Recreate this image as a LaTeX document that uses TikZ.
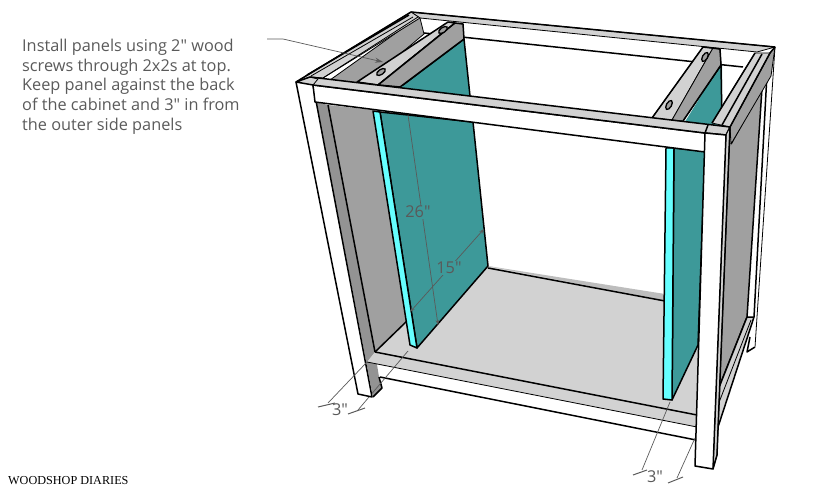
\documentclass[tikz,border=0pt]{standalone}
\usepackage{fontspec}
\setmainfont[Ligatures=TeXOff]{Open Sans}
\newfontfamily\logofont{Liberation Serif}
\usetikzlibrary{arrows.meta}
\definecolor{panelteal}{HTML}{3D9999}
\definecolor{paneledge}{HTML}{66FFFF}
\definecolor{sidegray}{HTML}{A0A0A0}
\definecolor{lightgray}{HTML}{D2D2D2}
\definecolor{shadowgray}{HTML}{BDBDBD}
\definecolor{notegray}{HTML}{5A5A5A}
\tikzset{
  edge/.style={draw=black,line width=1.5pt,line join=round},
  fine/.style={draw=black,line width=.8pt,line join=round},
  dim/.style={draw=notegray,line width=.7pt},
  dimtip/.style={dim,{Stealth[length=5pt,width=3.5pt]}-{Stealth[length=5pt,width=3.5pt]}},
  notelabel/.style={text=notegray,inner sep=1pt,font=\fontsize{16.3}{19.7}\selectfont},
  hole/.style={draw=black,fill=sidegray,line width=1.3pt}
}
\begin{document}
\begin{tikzpicture}[x=1pt,y=-1pt]
\useasboundingbox (0,0) rectangle (813,502);
\draw [fine,fill=lightgray] (411,12) -- (775,47) -- (757,52) -- (420,18) -- cycle;
\draw [edge] (411,12) -- (775,47);
\draw [edge] (424,33) -- (743,67);
\draw [fine] (775,47) -- (755,347);
\draw [edge] (768,55) -- (754,317);
\draw [fill=sidegray,fine] (316,90) -- (417,18) -- (420,18) -- (424,34) -- (357,90) -- cycle;
\fill [panelteal] (398,92) -- (403,85) -- (464,39) -- (470,100) -- cycle;
\draw [edge] (403,85) -- (464,39) -- (470,96);
\draw [edge,fill=lightgray] (357,82) -- (448,22) -- (455,23) -- (378,85) -- cycle;
\draw [edge,fill=sidegray] (378,85) -- (455,23) -- (463,24) -- (464,39) -- (400,87) -- cycle;
\draw [fine] (378,85) -- (455,23);
\draw [hole] (443,30) circle [x radius=5pt,y radius=2.5pt,rotate=35];
\draw [hole] (381,72) circle [x radius=5pt,y radius=2.5pt,rotate=35];
\fill [panelteal] (683,125) -- (720,65) -- (722,65) -- (722,130) -- cycle;
\draw [edge] (683,120) -- (721,65) -- (722,125);
\draw [fine,fill=lightgray] (652,118) -- (703,47) -- (713,48) -- (672,120) -- cycle;
\draw [fine,fill=sidegray] (672,120) -- (713,48) -- (720,49) -- (721,65) -- (683,121) -- cycle;
\draw [edge] (652,118) -- (703,47) -- (720,49) -- (721,65) -- (683,121);
\draw [hole] (705,57) circle [x radius=5pt,y radius=2.5pt,rotate=60];
\draw [hole] (669,105) circle [x radius=5pt,y radius=2.5pt,rotate=60];
\draw [fine,fill=lightgray] (296,82) -- (411,12) -- (420,18) -- (323,78) -- (310,77) -- cycle;
\draw [edge] (296,82) -- (411,12);
\draw [edge] (307,75) -- (409,15);
\draw [fine] (311,76) -- (413,17);
\draw [fine] (323,78) -- (418,17);
\fill [sidegray] (728,137) -- (731,144) -- (762,88) -- (747,317) -- (718,390) -- cycle;
\draw [edge] (731,144) -- (762,88) -- (747,317) -- (718,390);
\draw [fine,fill=sidegray] (730,127) -- (770,53) -- (775,47) -- (771,76) -- (731,144) -- cycle;
\draw [fine,fill=lightgray] (712,123) -- (755,53) -- (770,53) -- (730,127) -- cycle;
\draw [edge] (712,123) -- (755,53);
\draw [edge] (722,125) -- (762,54);
\draw [edge] (730,127) -- (770,53) -- (775,47);
\draw [edge,fill=white] (750,337) -- (747,352) -- (755,347);
\fill [lightgray] (747,317) -- (754,317) -- (718,427) -- (718,390) -- cycle;
\draw [edge] (747,317) -- (754,317) -- (718,427);
\draw [edge] (747,317) -- (718,390);
\draw [fine] (751,320) -- (718,405);
\fill [shadowgray] (488,266) -- (665,294) -- (665,301) -- (488,268) -- cycle;
\fill [lightgray] (375,352) -- (407,318) -- (488,266) -- (665,301) -- (700,305) -- (697,415) -- cycle;
\fill [sidegray] (328,105) -- (373,110) -- (407,321) -- (375,352) -- cycle;
\draw [edge] (375,352) -- (408,320);
\fill [sidegray!92!black] (313,85) -- (315,102) -- (328,105) -- (375,352) -- (379,377) -- (382,388) -- (373,397) -- cycle;
\draw [edge] (328,105) -- (375,352);
\draw [edge] (488,268) -- (665,301);
\draw [edge,fill=panelteal] (380,112) -- (473,122) -- (488,266) -- (417,348) -- cycle;
\draw [edge,fill=paneledge] (373,111) -- (380,112) -- (417,348) -- (410,345) -- cycle;
\draw [edge,fill=panelteal] (674,148) -- (705,151) -- (698,345) -- (672,400) -- cycle;
\draw [edge,fill=paneledge] (666,148) -- (674,148) -- (672,400) -- (663,399) -- cycle;
\fill [lightgray] (375,352) -- (697,415) -- (697,427) -- (367,362) -- cycle;
\draw [edge] (375,352) -- (697,415);
\draw [fine] (367,362) -- (697,427);
\draw [edge] (380,377) -- (696,440);
\draw [edge] (379,377) -- (382,388) -- (373,397);
\coordinate (dimLa) at (408,351);
\coordinate (dimLb) at (358,410);
\draw [dim] (dimLa) -- (dimLb);
\fill [white] (296,82) -- (313,85) -- (372,397) -- (358,394) -- cycle;
\draw [edge] (296,82) -- (358,394) -- (372,397) -- (313,85);
\draw [edge,fill=white] (313,85) -- (705,133) -- (705,152) -- (315,102) -- cycle;
\draw [edge,fill=lightgray] (296,82) -- (310,77) -- (730,127) -- (726,135) -- (705,133) -- (313,85) -- cycle;
\draw [fine] (310,77) -- (318,79) -- (313,85);
\draw [edge] (708,125) -- (705,133);
\draw [fine,fill=lightgray] (730,127) -- (726,135) -- (713,469) -- (717,455) -- cycle;
\draw [edge,fill=white] (705,133) -- (726,135) -- (713,469) -- (695,466) -- cycle;
\draw [edge] (730,127) -- (717,455) -- (713,469);
\coordinate (noteA) at (267,39);
\coordinate (noteB) at (283,39);
\coordinate (noteC) at (383,62);
\draw [dim,-{Stealth[length=8pt,width=5pt]}] (noteA) -- (noteB) -- (noteC);
\node (note) [notelabel,anchor=north west,align=left] at (21,38) {Install panels using 2" wood\\screws through 2x2s at top.\\Keep panel against the back\\of the cabinet and 3" in from\\the outer side panels};
\coordinate (lenTop) at (408,115);
\coordinate (lenEnd) at (438,325);
\draw [dim,-{Stealth[length=5pt,width=3.5pt]}] (lenTop) -- (lenEnd);
\node (len) [notelabel,fill=panelteal] at (418,212) {26"};
\coordinate (wideA) at (410,312);
\coordinate (wideB) at (484,229);
\draw [dimtip] (wideA) -- (wideB);
\node (wide) [notelabel,fill=panelteal] at (449,268) {15"};
\coordinate (gapLa) at (367,362);
\coordinate (gapLb) at (328,403);
\draw [dim] (gapLa) -- (gapLb);
\coordinate (tickA) at (318,407);
\coordinate (tickB) at (335,403);
\coordinate (tickC) at (348,414);
\coordinate (tickD) at (365,408);
\draw [dim,line width=1pt] (tickA) -- (tickB);
\draw [dim,line width=1pt] (tickC) -- (tickD);
\node (gapL) [notelabel] at (340,410) {3"};
\coordinate (gapRa) at (670,402);
\coordinate (gapRb) at (642,470);
\coordinate (gapRc) at (695,438);
\coordinate (gapRd) at (677,478);
\draw [dim] (gapRa) -- (gapRb);
\draw [dim] (gapRc) -- (gapRd);
\coordinate (tickE) at (633,475);
\coordinate (tickF) at (647,470);
\coordinate (tickG) at (668,483);
\coordinate (tickH) at (683,477);
\draw [dim,line width=1pt] (tickE) -- (tickF);
\draw [dim,line width=1pt] (tickG) -- (tickH);
\node (gapR) [notelabel] at (655,477) {3"};
\node (logo) [anchor=west,inner sep=0pt,font=\logofont\fontsize{12.2}{14}\selectfont] at (8,481) {WOODSHOP DIARIES};
\end{tikzpicture}
\end{document}
